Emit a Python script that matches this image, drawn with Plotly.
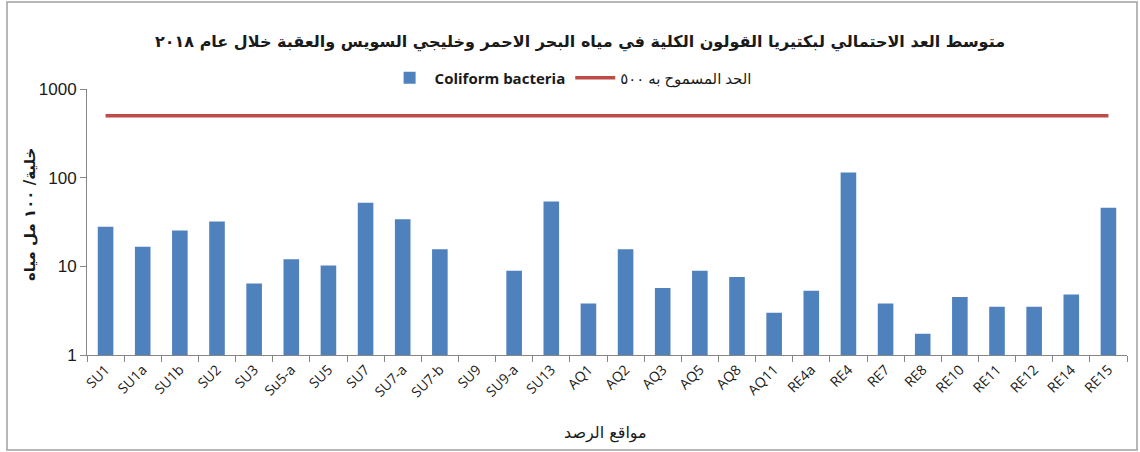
import plotly.graph_objects as go

stations = ["SU1", "SU1a", "SU1b", "SU2", "SU3", "Su5-a", "SU5", "SU7", "SU7-a", "SU7-b",
            "SU9", "SU9-a", "SU13", "AQ1", "AQ2", "AQ3", "AQ5", "AQ8", "AQ11", "RE4a",
            "RE4", "RE7", "RE8", "RE10", "RE11", "RE12", "RE14", "RE15"]
coliform = [27.9, 16.6, 25.4, 32, 6.4, 12.0, 10.2, 52, 34, 15.6,
            None, 8.9, 54, 3.8, 15.6, 5.7, 8.9, 7.6, 3.0, 5.3,
            114, 3.8, 1.74, 4.5, 3.5, 3.5, 4.8, 45.9]
limit_value = 500
limit = [limit_value] * len(stations)

title_text = "متوسط العد الاحتمالي لبكتيريا القولون الكلية في مياه البحر الاحمر وخليجي السويس والعقبة خلال عام ٢٠١٨"
bar_name = "Coliform bacteria"
line_name = "الحد المسموح به ٥٠٠"
y_title = "خلية/ ١٠٠ مل مياه"
x_title = "مواقع الرصد"

W, H = 1140, 452
L, R, T, B = 87, 13, 89, 97
pw, ph = W - L - R, H - T - B

def px(x):
    return (x - L) / pw

def py(y):
    return (H - B - y) / ph

fig = go.Figure()
fig.add_trace(go.Bar(x=stations, y=coliform, name="<b>" + bar_name + "</b>",
                     marker=dict(color="#4F81BD", line=dict(width=0)), width=0.42))
fig.add_trace(go.Scatter(x=stations, y=limit, name=line_name, mode="lines",
                         line=dict(color="#BE4B48", width=3.5)))

fig.update_layout(
    width=W, height=H,
    margin=dict(l=L, r=R, t=T, b=B),
    template="none",
    paper_bgcolor="white", plot_bgcolor="white",
    showlegend=True,
    legend=dict(orientation="h", x=0.465, xanchor="center", y=py(78), yanchor="middle",
                font=dict(family="Open Sans, DejaVu Sans", size=15, color="#1a1a1a"),
                itemwidth=40, traceorder="normal", bgcolor="rgba(0,0,0,0)"),
    xaxis=dict(tickangle=-45),
)
fig.update_xaxes(
    tickangle=-45, range=[-0.5, len(stations) - 0.5],
    showline=True, linecolor="#868686", linewidth=1,
    ticks="outside", tickson="boundaries", ticklen=6, tickcolor="#868686",
    tickfont=dict(size=14, color="#1a1a1a"),
    showgrid=False, zeroline=False,
)
fig.update_yaxes(
    type="log", range=[0, 3], tickvals=[1, 10, 100, 1000], ticktext=["1", "10", "100", "1000"],
    showline=True, linecolor="#868686", linewidth=1, ticks="outside", ticklen=6,
    tickcolor="#868686", tickfont=dict(family="Liberation Sans", size=17, color="#1a1a1a"),
    showgrid=False, zeroline=False,
)

fig.add_annotation(text="<b>" + title_text + "</b>", xref="paper", yref="paper",
                   x=px(580), y=py(30), showarrow=False,
                   font=dict(family="DejaVu Sans", size=16, color="#1a1a1a"))
fig.add_annotation(text="<b>" + y_title + "</b>", xref="paper", yref="paper", textangle=-90,
                   x=px(19), y=py(215), showarrow=False,
                   font=dict(family="DejaVu Sans", size=15, color="#1a1a1a"))
fig.add_annotation(text=x_title, xref="paper", yref="paper",
                   x=px(605), y=py(445), showarrow=False,
                   font=dict(family="DejaVu Sans", size=16, color="#1a1a1a"))

fig.add_shape(type="rect", xref="paper", yref="paper",
              x0=px(7), x1=px(1137), y0=py(450), y1=py(2),
              line=dict(color="#A0A0A0", width=1.5), fillcolor="rgba(0,0,0,0)")

fig.write_html("out.html")
